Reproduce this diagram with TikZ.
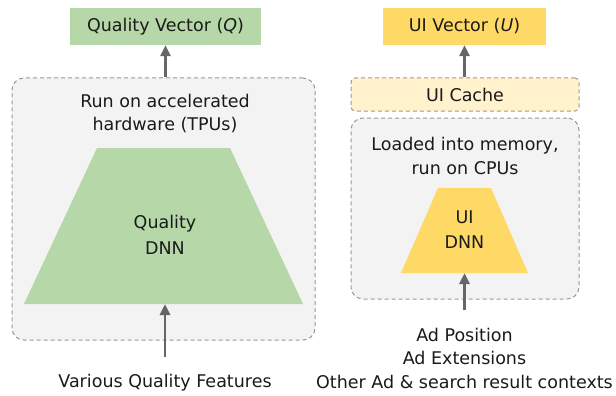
\documentclass[tikz,border=0pt]{standalone}
\usepackage{fontspec}
\setmainfont{DejaVu Sans}
\usetikzlibrary{arrows.meta}
\definecolor{qgreen}{HTML}{B6D7A8}
\definecolor{uyellow}{HTML}{FFD966}
\definecolor{cyellow}{HTML}{FFF2CC}
\definecolor{boxgray}{HTML}{F3F3F3}
\definecolor{dashgray}{HTML}{999999}
\definecolor{arrgray}{HTML}{666666}
\definecolor{txt}{HTML}{1A1A1A}
\tikzset{
  lbl/.style={font=\fontsize{17.5}{23.5}\selectfont, text=txt, align=center, inner sep=0pt},
  dnnlbl/.style={lbl, font=\fontsize{17.5}{25.5}\selectfont},
  outbox/.style={lbl, minimum height=37pt, inner sep=0pt},
  grpbox/.style={draw=dashgray, dashed, dash pattern=on 4pt off 3pt, line width=1pt, fill=boxgray, rounded corners=12pt, inner sep=0pt},
  flow/.style={draw=arrgray, line width=2.8pt, -{Triangle[width=10pt,length=11pt]}}
}
\begin{document}
\begin{tikzpicture}[x=1pt,y=-1pt]
\useasboundingbox (0,0) rectangle (616,396);
% left group
\node[outbox, fill=qgreen, minimum width=191pt] (qvec) at (165.5,26.5) {Quality Vector (\textit{Q})};
\node[grpbox, minimum width=303pt, minimum height=262pt] (lgrp) at (163.5,209) {};
\node[lbl] (lt) at (165,113.5) {Run on accelerated\\hardware (TPUs)};
\fill[qgreen] (97,148) -- (230,148) -- (303,304) -- (24,304) -- cycle;
\node[dnnlbl] (qdnn) at (165,235) {Quality\\DNN};
\coordinate (qbot) at (165,304);
\node[lbl] (qfeat) at (165,383) {Various Quality Features};
\coordinate (qin) at (165,357);
\draw[flow] (lgrp.north -| qvec.south) -- (qvec.south);
\draw[flow] (qin) -- (qbot);
% right group
\node[outbox, fill=uyellow, minimum width=163pt] (uvec) at (464.5,26.5) {UI Vector (\textit{U})};
\node[lbl, draw=dashgray, dashed, dash pattern=on 4pt off 3pt, line width=1pt, fill=cyellow, rounded corners=4pt, minimum width=228pt, minimum height=33pt] (cache) at (465,94.5) {UI Cache};
\node[grpbox, minimum width=228pt, minimum height=181pt] (rgrp) at (465,208.5) {};
\node[lbl] (rt) at (465,156) {Loaded into memory,\\run on CPUs};
\fill[uyellow] (438,188) -- (491,188) -- (528,273) -- (401,273) -- cycle;
\node[dnnlbl] (udnn) at (464.5,229.5) {UI\\DNN};
\coordinate (ubot) at (464.5,273);
\node[lbl] (ufeat) at (464.5,358) {Ad Position\\Ad Extensions\\Other Ad \& search result contexts};
\coordinate (uin) at (464.5,310);
\draw[flow] (cache.north -| uvec.south) -- (uvec.south);
\draw[flow] (uin) -- (ubot);
\end{tikzpicture}
\end{document}
